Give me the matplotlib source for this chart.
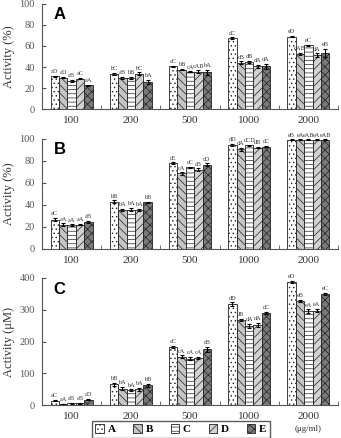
import matplotlib
matplotlib.use("Agg")
import matplotlib.pyplot as plt
import numpy as np
from matplotlib.patches import Patch

plt.rcParams['hatch.linewidth'] = 0.5
plt.rcParams['font.family'] = ['Liberation Serif', 'DejaVu Serif']

groups = ["100", "200", "500", "1000", "2000"]
series = ["A", "B", "C", "D", "E"]

vals_a = {
    "A": [31, 33.5, 40.5, 67.5, 69],
    "B": [30, 29.5, 37.5, 44, 52.5],
    "C": [27, 29.5, 35.5, 45, 60.5],
    "D": [29, 33.5, 35.5, 40.5, 51.5],
    "E": [22.5, 26, 35, 40.5, 53.5],
}
err_a = {
    "A": [0.8, 1.0, 0.6, 0.8, 0.8],
    "B": [0.6, 1.2, 0.8, 1.5, 0.8],
    "C": [0.8, 1.0, 0.6, 0.8, 0.8],
    "D": [0.8, 1.5, 1.2, 1.5, 1.5],
    "E": [0.6, 2.0, 2.5, 2.5, 4.0],
}
lab_a = {
    "A": ["aD", "bC", "cC", "dC", "eD"],
    "B": ["aD", "aB", "bB", "cB", "dAB"],
    "C": ["aB", "bB", "cA", "dB", "eC"],
    "D": ["aC", "bC", "cAB", "dA", "dA"],
    "E": ["aA", "bA", "bA", "dA", "eB"],
}

vals_b = {
    "A": [26.5, 43, 78, 94.5, 99],
    "B": [22, 35.5, 68.5, 90.5, 99],
    "C": [21.5, 35.5, 74, 94, 99],
    "D": [22, 35.5, 72, 92, 99],
    "E": [24.5, 42.5, 76.5, 93, 99],
}
err_b = {
    "A": [1.5, 1.0, 0.8, 0.8, 0.5],
    "B": [1.0, 0.8, 1.0, 1.2, 0.5],
    "C": [0.8, 1.5, 0.8, 0.5, 0.5],
    "D": [0.8, 0.8, 1.2, 0.5, 0.5],
    "E": [0.8, 0.5, 1.2, 0.5, 0.5],
}
lab_b = {
    "A": ["aC", "bB", "cE", "dD", "eB"],
    "B": ["aA", "bA", "cA", "dA", "eA"],
    "C": ["aA", "bA", "cC", "dCD", "eAB"],
    "D": ["aA", "bA", "cB", "dB", "eA"],
    "E": ["aB", "bB", "cD", "dC", "eAB"],
}

vals_c = {
    "A": [14, 65, 183, 318, 387],
    "B": [3, 52, 152, 268, 328],
    "C": [5, 47, 146, 248, 295],
    "D": [5, 50, 147, 252, 297],
    "E": [17, 62, 176, 290, 350],
}
err_c = {
    "A": [1.5, 4, 4, 5, 3],
    "B": [1.0, 6, 4, 4, 3],
    "C": [1.0, 2, 5, 6, 6],
    "D": [1.0, 5, 3, 6, 5],
    "E": [2.0, 4, 8, 4, 3],
}
lab_c = {
    "A": ["aC", "bB", "cC", "dD", "eD"],
    "B": ["aA", "bA", "cA", "dB", "eB"],
    "C": ["aB", "bA", "cA", "dA", "eA"],
    "D": ["aB", "bA", "cA", "dA", "eA"],
    "E": ["aD", "bB", "cB", "dC", "eC"],
}

styles = {
    "A": dict(facecolor="white", hatch="...."),
    "B": dict(facecolor="#c4c4c4", hatch="\\\\\\\\"),
    "C": dict(facecolor="white", hatch="----"),
    "D": dict(facecolor="#d2d2d2", hatch="////"),
    "E": dict(facecolor="#7a7a7a", hatch="xxxx"),
}

fig = plt.figure(figsize=(3.41, 4.38), dpi=100)
W = 0.868
L = 0.123
ax_a = fig.add_axes([L, 0.751, W, 0.240])
ax_b = fig.add_axes([L, 0.432, W, 0.251])
ax_c = fig.add_axes([L, 0.0753, W, 0.290])

x = np.arange(len(groups))
bw = 0.142

def draw(ax, vals, errs, labs, ymax, step, ylabel, letter):
    for i, s in enumerate(series):
        pos = x + (i - 2) * bw
        ax.bar(pos, vals[s], bw, edgecolor="#222222", linewidth=0.6,
               zorder=2, **styles[s])
        ax.errorbar(pos, vals[s], yerr=errs[s], fmt="none", ecolor="black",
                    elinewidth=0.8, capsize=1.5, capthick=0.8, zorder=3)
        for p, v, e, t in zip(pos, vals[s], errs[s], labs[s]):
            ax.text(p, v + e + ymax * 0.015, t, ha="center", va="bottom",
                    fontsize=4.5, color="#333333")
    ax.set_xlim(-0.5, 4.5)
    ax.set_ylim(0, ymax)
    ax.set_yticks(np.arange(0, ymax + 1, step))
    ax.set_xticks(x)
    ax.set_xticklabels(groups)
    ax.set_xticks(np.arange(-0.5, 5.0, 1.0), minor=True)
    ax.tick_params(axis="x", which="major", length=0, labelsize=8,
                   colors="#333333", pad=5)
    ax.tick_params(axis="x", which="minor", length=3, direction="in",
                   color="#555555")
    ax.tick_params(axis="y", length=3, labelsize=7.5, colors="#555555",
                   direction="in", pad=5)
    for sp in ["top", "right"]:
        ax.spines[sp].set_visible(False)
    for sp in ["left", "bottom"]:
        ax.spines[sp].set_color("#555555")
        ax.spines[sp].set_linewidth(0.8)
    ax.set_ylabel(ylabel, fontsize=9, color="#333333", labelpad=3)
    ax.text(0.04, 0.97, letter, transform=ax.transAxes, ha="left", va="top",
            fontsize=12, fontweight="bold", family="Liberation Sans",
            color="black")

draw(ax_a, vals_a, err_a, lab_a, 100, 20, "Activity (%)", "A")
draw(ax_b, vals_b, err_b, lab_b, 100, 20, "Activity (%)", "B")
draw(ax_c, vals_c, err_c, lab_c, 400, 100, "Activity (\u03bcM)", "C")

ax_c.text(4, -0.155, "(\u03bcg/ml)", transform=ax_c.get_xaxis_transform(),
          ha="center", va="top", fontsize=6.5, color="#333333")

handles = [Patch(edgecolor="#222222", linewidth=0.6, **styles[s]) for s in series]
fig.legend(handles, series, loc="lower center", bbox_to_anchor=(0.53, -0.012),
           ncol=5, fontsize=8, frameon=True, fancybox=False, edgecolor="#333333",
           handlelength=0.8, handleheight=0.8, handletextpad=0.3,
           columnspacing=1.6, borderpad=0.3, prop={"weight": "bold", "size": 8})

fig.savefig("out.png", dpi=100)
